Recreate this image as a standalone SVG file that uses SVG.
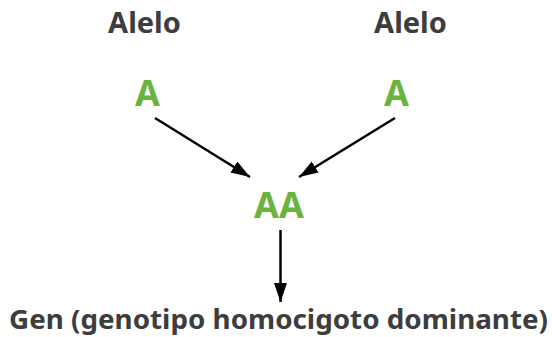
<svg xmlns="http://www.w3.org/2000/svg" width="552" height="337" viewBox="0 0 552 337">
  <style>
    .lbl { font-family: "Noto Sans", "Open Sans", sans-serif; font-weight: 700; fill: #3d3d3d; text-anchor: middle; }
    .al { font-family: "Noto Sans", "Open Sans", sans-serif; font-weight: 700; fill: #6ab43e; text-anchor: middle; font-size: 36px; }
    .con { stroke: #000; stroke-width: 2.5; fill: none; marker-end: url(#ah); }
  </style>
  <defs>
    <marker id="ah" markerUnits="userSpaceOnUse" markerWidth="20" markerHeight="14" refX="19" refY="6.5" orient="auto">
      <path d="M0,0 L19,6.5 L0,13 z" fill="#000"/>
    </marker>
  </defs>
  <rect width="552" height="337" fill="#fff"/>
  <g id="connectors">
    <line class="con" x1="155" y1="118" x2="250" y2="177"/>
    <line class="con" x1="395" y1="118" x2="299" y2="177"/>
    <line class="con" x1="280.5" y1="230" x2="280.5" y2="302"/>
  </g>
  <g id="label-alelo-1"><text class="lbl" x="144.5" y="33" font-size="29">Alelo</text></g>
  <g id="label-alelo-2"><text class="lbl" x="410.5" y="33" font-size="29">Alelo</text></g>
  <g id="allele-left"><text class="al" x="147.5" y="106">A</text></g>
  <g id="allele-right"><text class="al" x="396.5" y="106">A</text></g>
  <g id="genotype"><text class="al" x="279" y="218">AA</text></g>
  <g id="gene"><text class="lbl" x="278.5" y="329" font-size="27" textLength="539" lengthAdjust="spacingAndGlyphs">Gen (genotipo homocigoto dominante)</text></g>
</svg>
